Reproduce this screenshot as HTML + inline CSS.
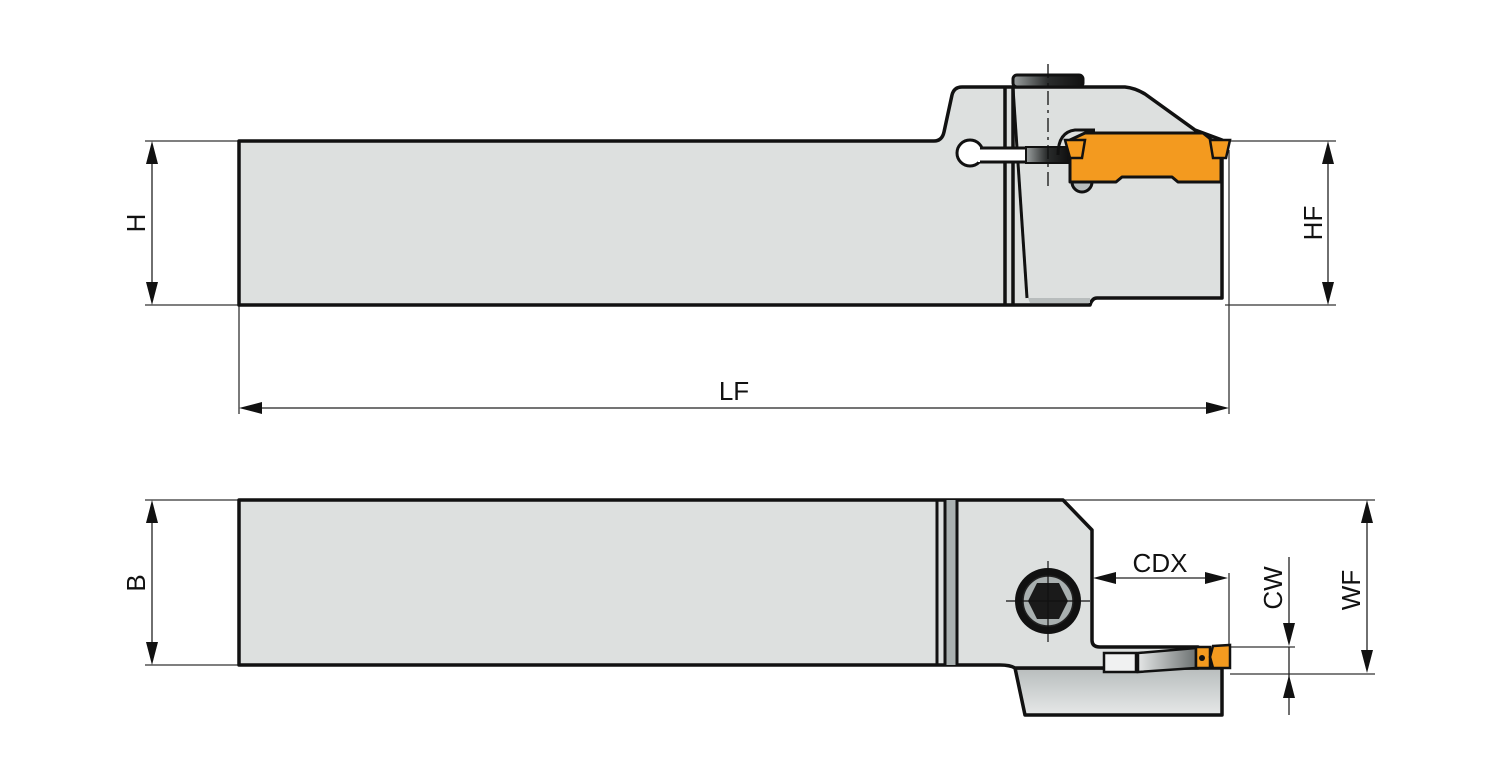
<!DOCTYPE html>
<html><head><meta charset="utf-8"><style>html,body{margin:0;padding:0;background:#fff}svg{display:block}</style></head>
<body>
<svg width="1500" height="782" viewBox="0 0 1500 782" xmlns="http://www.w3.org/2000/svg" font-family="Liberation Sans, Arial, sans-serif">
<defs>
<linearGradient id="gd" x1="0" x2="1"><stop offset="0" stop-color="#e4e6e6"/><stop offset="1" stop-color="#6d7272"/></linearGradient>
<linearGradient id="gs" x1="0" x2="1"><stop offset="0" stop-color="#9ba0a0"/><stop offset="0.5" stop-color="#2a2c2c"/><stop offset="1" stop-color="#111"/></linearGradient>
<linearGradient id="gb" x1="0" x2="0" y1="0" y2="1"><stop offset="0" stop-color="#b8bdbd"/><stop offset="1" stop-color="#e6e8e8"/></linearGradient>
</defs>
<g stroke="#333" stroke-width="1.3" fill="none">
<line x1="145" y1="141" x2="239" y2="141"/><line x1="145" y1="305" x2="239" y2="305"/>
<line x1="1230" y1="141" x2="1336" y2="141"/><line x1="1225" y1="305" x2="1336" y2="305"/>
<line x1="239" y1="305" x2="239" y2="414"/><line x1="1229" y1="150" x2="1229" y2="414"/>
<line x1="145" y1="500" x2="239" y2="500"/><line x1="145" y1="665" x2="239" y2="665"/>
<line x1="1063" y1="500" x2="1375" y2="500"/>
<line x1="1230" y1="674" x2="1375" y2="674"/>
<line x1="1230" y1="647" x2="1295" y2="647"/>
<line x1="1229" y1="573" x2="1229" y2="645"/>
</g>
<g stroke="#222" stroke-width="1.3">
<line x1="152" y1="150" x2="152" y2="296"/>
<line x1="1328" y1="150" x2="1328" y2="296"/>
<line x1="248" y1="408" x2="1220" y2="408"/>
<line x1="152" y1="509" x2="152" y2="656"/>
<line x1="1367" y1="509" x2="1367" y2="665"/>
<line x1="1101" y1="578" x2="1220" y2="578"/>
<line x1="1289" y1="557" x2="1289" y2="640"/>
<line x1="1289" y1="647" x2="1289" y2="715"/>
</g>
<g fill="#111">
<polygon points="152,141 146,164 158,164"/><polygon points="152,305 146,282 158,282"/>
<polygon points="1328,141 1322,164 1334,164"/><polygon points="1328,305 1322,282 1334,282"/>
<polygon points="239,408 262,402 262,414"/><polygon points="1229,408 1206,402 1206,414"/>
<polygon points="152,500 146,523 158,523"/><polygon points="152,665 146,642 158,642"/>
<polygon points="1367,500 1361,523 1373,523"/><polygon points="1367,673 1361,650 1373,650"/>
<polygon points="1093,578 1116,572 1116,584"/><polygon points="1228,578 1205,572 1205,584"/>
<polygon points="1289,646 1283,623 1295,623"/><polygon points="1289,675 1283,698 1295,698"/>
</g>
<g font-size="26" fill="#111">
<text x="734" y="400" text-anchor="middle">LF</text>
<text x="1160" y="572" text-anchor="middle">CDX</text>
<text transform="translate(145,223) rotate(-90)" text-anchor="middle">H</text>
<text transform="translate(1322,223) rotate(-90)" text-anchor="middle">HF</text>
<text transform="translate(145,583) rotate(-90)" text-anchor="middle">B</text>
<text transform="translate(1282,588) rotate(-90)" text-anchor="middle">CW</text>
<text transform="translate(1360,590) rotate(-90)" text-anchor="middle">WF</text>
</g>

<!-- TOP VIEW -->
<g stroke="#111" stroke-width="3.5" stroke-linejoin="round">
<path d="M239,141 L934,141 Q942,141 944,132 L952,95 Q954,87 962,87 L1125,87 Q1135,88 1145,94 L1195,130 L1222,140 L1222,298 L1097,298 Q1092,298 1090,305 L239,305 Z" fill="#dde0df"/>
<rect x="1013" y="75" width="70" height="12" rx="4" fill="url(#gs)" stroke-width="3"/>
<path d="M1013,88 L1027,298" fill="none" stroke-width="3"/>
</g>
<path d="M1028,298 L1090,298 L1090,303 L1030,303 Z" fill="#b8bdbd"/>
<g stroke="#111" stroke-width="3.5">
<line x1="1005" y1="88" x2="1005" y2="305"/><line x1="1013" y1="88" x2="1013" y2="305"/>
</g>
<circle cx="970" cy="153" r="13" fill="#fff" stroke="#111" stroke-width="3"/>
<rect x="978" y="149" width="60" height="13" fill="#fff"/>
<path d="M980,148 L1038,148 M980,162 L1068,162" stroke="#111" stroke-width="3"/>
<rect x="1026" y="147" width="42" height="16" fill="url(#gs)" stroke="#111" stroke-width="2"/>
<circle cx="1082" cy="182" r="10" fill="#b8bdbd" stroke="#111" stroke-width="3"/>
<path d="M1058,155 Q1058,132 1075,130 L1095,130" fill="none" stroke="#111" stroke-width="3"/>
<path d="M1070,140 L1085,133 L1203,133 L1213,141 L1221,141 L1221,182 L1178,182 L1172,177 L1122,177 L1116,182 L1070,182 Z" fill="#f39a1f" stroke="#111" stroke-width="3" stroke-linejoin="round"/>
<path d="M1065,140 L1085,140 L1082,158 L1070,158 Z" fill="#f39a1f" stroke="#111" stroke-width="2.5"/>
<path d="M1210,140 L1230,140 L1226,158 L1213,158 Z" fill="#f39a1f" stroke="#111" stroke-width="2.5"/>
<line x1="1048" y1="64" x2="1048" y2="188" stroke="#111" stroke-width="1.3" stroke-dasharray="14,5,3,5"/>

<!-- BOTTOM VIEW -->
<path d="M1015,668 L1222,668 L1222,715 L1025,715 Z" fill="url(#gb)" stroke="#111" stroke-width="3.5" stroke-linejoin="round"/>
<path d="M239,500 L1063,500 L1092,530 L1092,640 Q1092,647 1100,647 L1198,647 L1198,668 L1015,668 Q1010,665 1000,665 L239,665 Z" fill="#dde0df" stroke="#111" stroke-width="3.5" stroke-linejoin="round"/>
<rect x="945" y="500" width="12" height="165" fill="#a9b0b0"/>
<g stroke="#111" stroke-width="3"><line x1="937" y1="500" x2="937" y2="665"/><line x1="945" y1="500" x2="945" y2="665"/><line x1="957" y1="500" x2="957" y2="665"/></g>
<path d="M1104,653 L1136,653 L1136,672 L1104,672 Z" fill="#f0f1f1" stroke="#111" stroke-width="2.5"/>
<path d="M1138,653 L1196,648 L1196,668 L1138,672 Z" fill="url(#gd)" stroke="#111" stroke-width="2.5"/>
<path d="M1196,647 L1210,647 L1210,668 L1196,668 Z" fill="#f39a1f" stroke="#111" stroke-width="2.5"/>
<circle cx="1202" cy="658" r="3" fill="#111"/>
<path d="M1213,646 L1230,645 L1230,668 L1213,668 L1210,657 Z" fill="#f39a1f" stroke="#111" stroke-width="2.5"/>
<circle cx="1048" cy="601" r="33" fill="#111"/>
<circle cx="1048" cy="601" r="25" fill="#a9b0b0" stroke="#222" stroke-width="1.5"/>
<polygon points="1037,583 1059,583 1068,601 1059,619 1037,619 1028,601" fill="#1a1a1a"/>
<g stroke="#111" stroke-width="1.2"><line x1="1006" y1="601" x2="1090" y2="601"/><line x1="1048" y1="561" x2="1048" y2="642"/></g>
</svg>
</body></html>
